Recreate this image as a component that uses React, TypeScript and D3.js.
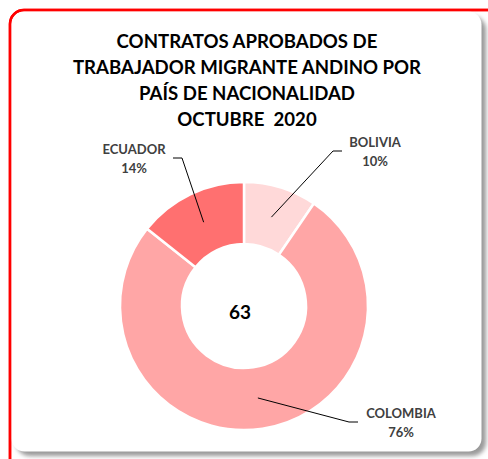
import React from "react";
import * as d3 from "d3";

const countries = ["BOLIVIA", "COLOMBIA", "ECUADOR"];
const counts = [6, 48, 9];
const colors = ["#FFD9D9", "#FFA6A6", "#FF7070"];
const titleLines = [
  "CONTRATOS APROBADOS DE",
  "TRABAJADOR MIGRANTE ANDINO POR",
  "PAÍS DE NACIONALIDAD",
  "OCTUBRE  2020",
];
// label anchor positions (layout)
const labelPos: Record<string, { x: number; y: number; hx: number; hdir: number }> = {
  BOLIVIA: { x: 375, y: 147, hx: 342, hdir: -1 },
  COLOMBIA: { x: 401, y: 418, hx: 358, hdir: -1 },
  ECUADOR: { x: 134, y: 154, hx: 173, hdir: 1 },
};

export default function App() {
  const W = 488, H = 459;
  const cx = 244, cy = 306, R = 124, r = 62;
  const total = d3.sum(counts);
  const pie = d3.pie<number>().sort(null).value((d) => d)(counts);
  const arc = d3.arc<d3.PieArcDatum<number>>().innerRadius(r).outerRadius(R);
  const font = "Lato, 'Open Sans', sans-serif";

  return (
    <svg width={W} height={H} style={{ position: "absolute", left: 0, top: 0, background: "#fff" }}>
      <defs>
        <filter id="blur" x="-10%" y="-10%" width="120%" height="120%">
          <feGaussianBlur stdDeviation="2" />
        </filter>
      </defs>
      <rect x={10} y={10} width={500} height={470} rx={14} fill="#fff" stroke="#FF0000" strokeWidth={2.5} />
      <rect x={16} y={16} width={470} height={440} rx={14} fill="#9a9a9a" filter="url(#blur)" />
      <rect x={11.5} y={11.5} width={470} height={440} rx={13} fill="#fff" />
      <path d="M 10 470 L 10 24 A 14 14 0 0 1 24 10 L 500 10" fill="none" stroke="#FF0000" strokeWidth={2.5} />
      <g fontFamily={font} fontWeight={700} fill="#000" fontSize={18.6} textAnchor="middle" style={{ whiteSpace: "pre" }}>
        {titleLines.map((t, i) => (
          <text key={i} x={247} y={48 + i * 26} xmlSpace="preserve">{t}</text>
        ))}
      </g>
      <g transform={`translate(${cx},${cy})`}>
        {pie.map((p, i) => (
          <path key={i} d={arc(p) || ""} fill={colors[i]} stroke="#fff" strokeWidth={2.5} />
        ))}
      </g>
      <text x={240} y={319} textAnchor="middle" fontFamily={font} fontWeight={700} fontSize={19} fill="#000">
        {total}
      </text>
      {pie.map((p, i) => {
        const name = countries[i];
        const lp = labelPos[name];
        const [ax, ay] = arc.centroid(p);
        const ly = lp.y + 4;
        return (
          <g key={name}>
            <polyline
              points={`${lp.hx},${ly} ${lp.hx + lp.hdir * 9},${ly} ${cx + ax},${cy + ay}`}
              fill="none"
              stroke="#000"
              strokeWidth={1}
            />
            <g fontFamily={font} fontWeight={700} fontSize={13} fill="#404040" textAnchor="middle">
              <text x={lp.x} y={lp.y}>{name}</text>
              <text x={lp.x} y={lp.y + 19}>{Math.round((p.value / total) * 100)}%</text>
            </g>
          </g>
        );
      })}
    </svg>
  );
}
